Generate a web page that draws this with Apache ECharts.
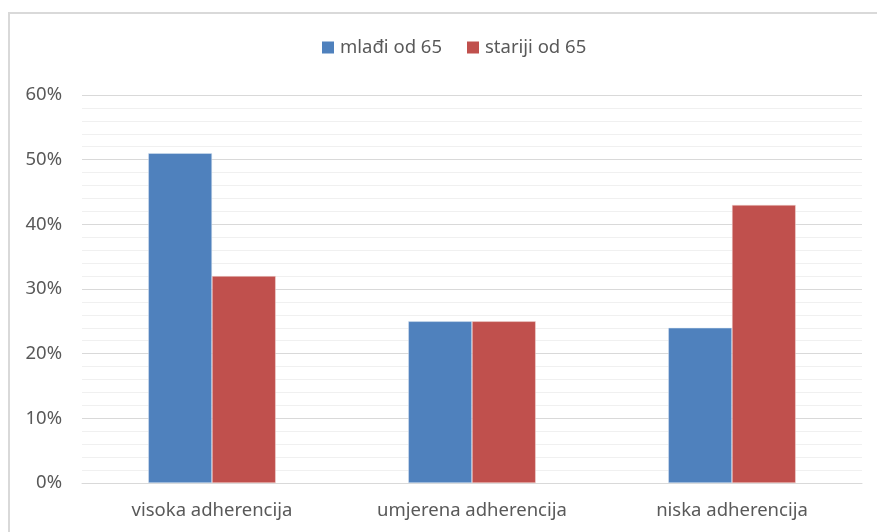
<!DOCTYPE html>
<html>
<head>
<meta charset="UTF-8">
<title>Adherencija</title>
<style>
    html, body { margin: 0; padding: 0; background: #fff; }
    #frame {
        position: absolute; left: 8px; top: 12px; right: 0; bottom: 0;
        border-top: 2px solid #d9d9d9; border-left: 2px solid #d9d9d9;
    }
    #main { position: absolute; left: 0; top: 0; width: 877px; height: 532px; }
</style>
<script src="https://cdn.jsdelivr.net/npm/echarts@6/dist/echarts.min.js"></script>
</head>
<body>
<div id="frame"></div>
<div id="main"></div>
<script>
    // kategorije i vrijednosti (u %)
    var categories = ['visoka adherencija', 'umjerena adherencija', 'niska adherencija'];
    var mladi = [51, 25, 24];
    var stariji = [32, 25, 43];
    var seriesNames = ['mlađi od 65', 'stariji od 65'];

    var myChart = echarts.init(document.getElementById('main'));
    var font = 'Noto Sans';

    var option = {
        animation: false,
        legend: {
            top: 33,
            left: 317,
            itemWidth: 12,
            itemHeight: 12,
            itemGap: 25,
            icon: 'rect',
            itemStyle: { borderWidth: 0 },
            textStyle: { fontFamily: font, fontSize: 18.5, color: '#595959', padding: [0, 0, 0, 1] },
            data: seriesNames
        },
        grid: { left: 82, right: 15, top: 95, bottom: 49 },
        xAxis: {
            type: 'category',
            data: categories,
            axisLine: { lineStyle: { color: '#d9d9d9', width: 1 } },
            axisTick: { show: false },
            axisLabel: { fontFamily: font, fontSize: 18.5, color: '#595959', margin: 18 }
        },
        yAxis: {
            type: 'value',
            min: 0, max: 60, interval: 10,
            axisLine: { show: false },
            axisTick: { show: false },
            axisLabel: {
                fontFamily: font, fontSize: 18.5, color: '#595959', margin: 20,
                formatter: function (v) { return v + '%'; }
            },
            splitLine: { lineStyle: { color: '#d9d9d9', width: 1 } },
            minorTick: { show: false, splitNumber: 5 },
            minorSplitLine: { show: true, lineStyle: { color: '#f0f0f0', width: 1 } }
        },
        series: [
            {
                name: seriesNames[0],
                type: 'bar',
                data: mladi,
                barGap: '0%',
                barCategoryGap: '51%',
                itemStyle: { color: '#4f81bd', borderColor: '#dce6f2', borderWidth: 0.5 }
            },
            {
                name: seriesNames[1],
                type: 'bar',
                data: stariji,
                itemStyle: { color: '#c0504d', borderColor: '#f2dcdb', borderWidth: 0.5 }
            }
        ]
    };

    option && myChart.setOption(option);
</script>
</body>
</html>
